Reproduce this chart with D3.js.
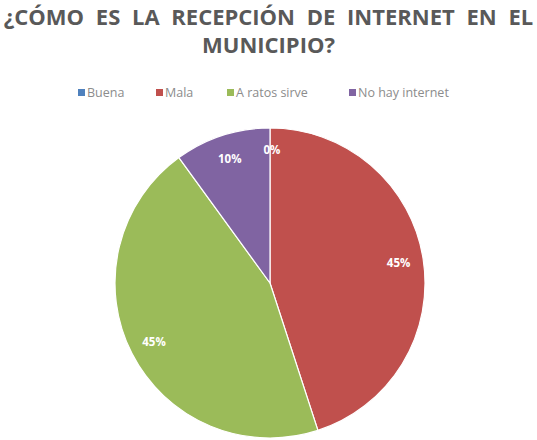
<!DOCTYPE html>
<html>
<head>
<meta charset="utf-8">
<script src="https://cdn.jsdelivr.net/npm/d3@7"></script>
<style>
  html, body { margin: 0; padding: 0; background: #fff; }
  svg { display: block; }
</style>
</head>
<body>
<svg id="chart" width="537" height="440"></svg>
<script>
// Survey answers and their shares (percent)
const categories = ["Buena", "Mala", "A ratos sirve", "No hay internet"];
const values = [0, 45, 45, 10];
const colors = ["#4F81BD", "#C0504D", "#9BBB59", "#8064A2"];
const titleLines = ["¿CÓMO ES LA RECEPCIÓN DE INTERNET EN EL", "MUNICIPIO?"];

const W = 537, H = 440;
const svg = d3.select("#chart");

// Title
svg.append("g").selectAll("text")
  .data(titleLines)
  .join("text")
  .attr("x", W / 2)
  .attr("y", (d, i) => 25 + i * 28)
  .attr("text-anchor", "middle")
  .attr("font-family", "'Open Sans', sans-serif")
  .attr("font-weight", "bold")
  .attr("font-size", 22)
  .attr("word-spacing", 6)
  .attr("fill", "#595959")
  .text(d => d);

// Legend
const legendX = [78, 156, 227, 349];
const legend = svg.append("g").selectAll("g")
  .data(categories)
  .join("g")
  .attr("transform", (d, i) => `translate(${legendX[i]},97)`);
legend.append("rect")
  .attr("x", 0).attr("y", -8)
  .attr("width", 7).attr("height", 7)
  .attr("fill", (d, i) => colors[i]);
legend.append("text")
  .attr("x", 9).attr("y", 0)
  .attr("font-family", "'Open Sans', sans-serif")
  .attr("font-size", 12.5)
  .attr("fill", "#8c8c8c")
  .text(d => d);

// Pie
const cx = 270, cy = 283, r = 155;
const pie = d3.pie().sort(null).value(d => d.v);
const arcs = pie(categories.map((c, i) => ({ c, v: values[i], i })));
const arc = d3.arc().innerRadius(0).outerRadius(r);
const labelArc = d3.arc().innerRadius(r * 0.84).outerRadius(r * 0.84);

const g = svg.append("g").attr("transform", `translate(${cx},${cy})`);
g.selectAll("path")
  .data(arcs)
  .join("path")
  .attr("d", arc)
  .attr("fill", d => colors[d.data.i])
  .attr("stroke", "#fff")
  .attr("stroke-width", 1.2);

const fmt = d => d3.format(".0f")(d) + "%";
g.selectAll("text")
  .data(arcs)
  .join("text")
  .attr("transform", d => {
    const [x, y] = d.data.v === 0 ? [2, -r * 0.86] : labelArc.centroid(d);
    return `translate(${x},${y})`;
  })
  .attr("text-anchor", "middle")
  .attr("dy", "0.35em")
  .attr("font-family", "'Open Sans', sans-serif")
  .attr("font-weight", "bold")
  .attr("font-size", 11.5)
  .attr("fill", "#fff")
  .text(d => fmt(d.data.v));
</script>
</body>
</html>
